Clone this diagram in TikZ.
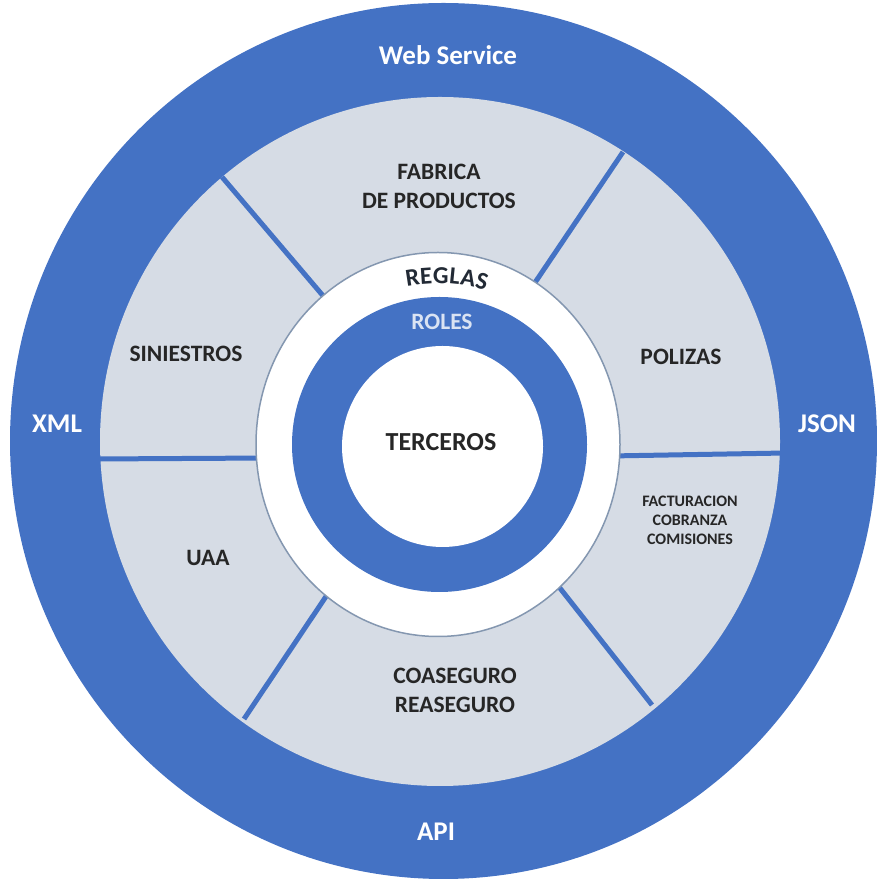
\documentclass[tikz,border=0pt]{standalone}
\usepackage{fontspec}
\setmainfont{Carlito}
\usetikzlibrary{decorations.text}
\definecolor{ringblue}{HTML}{4472C4}
\definecolor{ringgray}{HTML}{D6DCE5}
\definecolor{edgegray}{HTML}{8497B0}
\definecolor{darktext}{HTML}{262626}
\definecolor{ruletext}{HTML}{222A35}
\definecolor{roletext}{HTML}{DAE3F3}

\begin{document}
\begin{tikzpicture}[
    x=1pt, y=1pt,
    outerlabel/.style={inner sep=0pt, font=\bfseries\fontsize{27}{27}\selectfont, text=white},
    sector/.style={inner sep=0pt, align=center, font=\bfseries\fontsize{23.5}{29}\selectfont, text=darktext},
    smallsector/.style={inner sep=0pt, align=center, font=\bfseries\fontsize{16}{19}\selectfont, text=darktext},
    divider/.style={ringblue, line width=5pt}
]
    \useasboundingbox (0,0) rectangle (877,880);

    % Rings
    \fill[ringblue] (443.5,439) ellipse [x radius=433.5, y radius=438];
    \fill[ringgray] (440,438.5) ellipse [x radius=340, y radius=344.5];

    % Dividers
    \coordinate (d1a) at (222,703);  \coordinate (d1b) at (330,576);
    \coordinate (d2a) at (623,728);  \coordinate (d2b) at (530,590);
    \coordinate (d3a) at (96,421);   \coordinate (d3b) at (270,422);
    \coordinate (d4a) at (610,424);  \coordinate (d4b) at (786,427);
    \coordinate (d5a) at (335,297);  \coordinate (d5b) at (244,161);
    \coordinate (d6a) at (552,302);  \coordinate (d6b) at (652,175);
    \draw[divider] (d1a) -- (d1b);
    \draw[divider] (d2a) -- (d2b);
    \draw[divider] (d3a) -- (d3b);
    \draw[divider] (d4a) -- (d4b);
    \draw[divider] (d5a) -- (d5b);
    \draw[divider] (d6a) -- (d6b);

    \coordinate (core) at (438,435.5);
    \filldraw[fill=white, draw=edgegray, line width=1.5pt] (core) ellipse [x radius=182, y radius=192];
    \fill[ringblue] (439.5,435.5) circle [radius=147.5];
    \fill[white] (442.5,433.5) circle [radius=100.5];

    % Outer labels
    \node[outerlabel] (web) at (448,825) {Web Service};
    \node[outerlabel] (xml) at (57,456) {XML};
    \node[outerlabel] (json) at (827,456) {JSON};
    \node[outerlabel] (api) at (436,48) {API};

    % Sectors
    \node[sector] (fabrica) at (439,694) {FABRICA\\DE PRODUCTOS};
    \node[sector] (polizas) at (681,523) {POLIZAS};
    \node[smallsector] (factura) at (690,360) {FACTURACION\\COBRANZA\\COMISIONES};
    \node[sector] (coaseguro) at (455,190) {COASEGURO\\REASEGURO};
    \node[sector] (uaa) at (208,322) {UAA};
    \node[sector] (siniestros) at (186,526) {SINIESTROS};

    % Core
    \path[decorate, decoration={text along path, text align=center,
        text={|\bfseries\fontsize{24.5}{24.5}\selectfont\color{ruletext}|R{\kern0.3pt}E{\kern0.3pt}G{\kern0.3pt}L{\kern0.3pt}A{\kern0.3pt}S}}]
        (core) ++(117:161) arc [start angle=117, end angle=57, radius=161];
    \node[sector, text=roletext] (roles) at (442,558) {ROLES};
    \node[sector, font=\bfseries\fontsize{26}{26}\selectfont] (terceros) at (441,438) {TERCEROS};
\end{tikzpicture}
\end{document}
